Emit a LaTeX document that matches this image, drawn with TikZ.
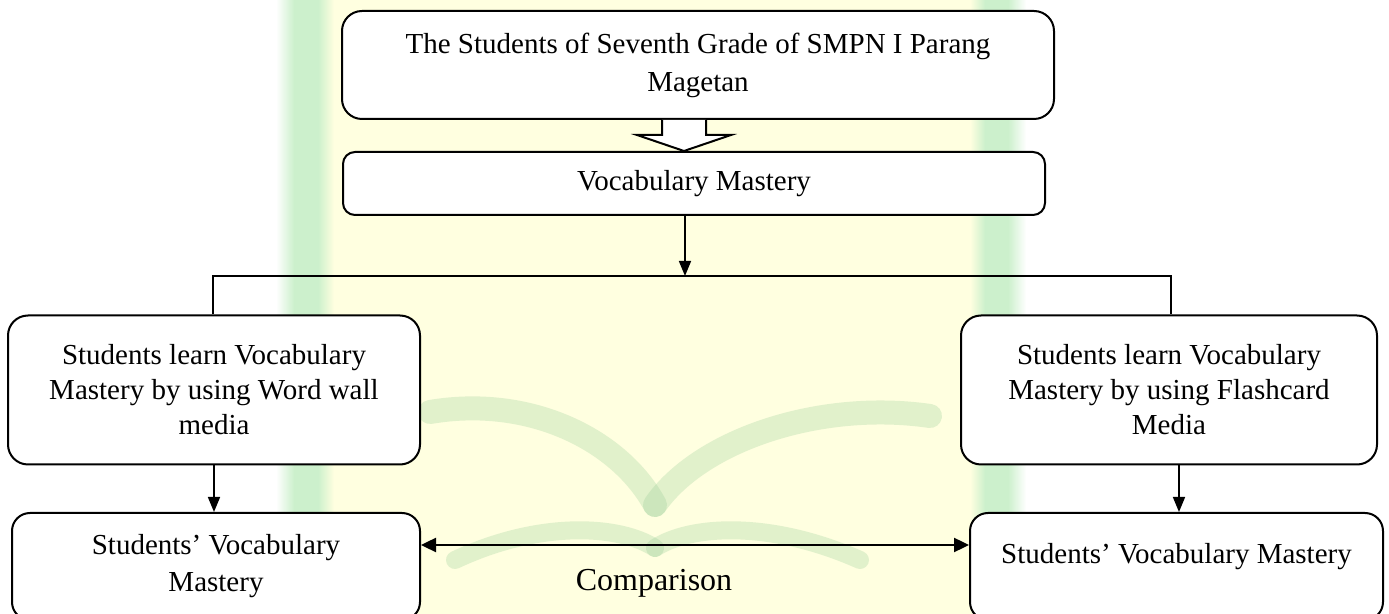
\documentclass[tikz,border=0pt]{standalone}
\usepackage{fontspec}
\setmainfont{Liberation Serif}
\usetikzlibrary{arrows.meta,calc}
\definecolor{wmyellow}{RGB}{255,255,224}
\definecolor{wmgreen}{RGB}{204,240,204}
\definecolor{wmbook}{RGB}{150,205,150}
\tikzset{
  box/.style={draw, line width=1pt, fill=white, rounded corners=10pt, align=center,
    inner sep=0pt, font=\fontsize{14.5}{17.5}\selectfont},
  conn/.style={line width=0.8pt, -{Triangle[length=7.5pt,width=6pt]}},
  plain/.style={line width=0.6pt},
  dbl/.style={line width=1.2pt, {Triangle[length=7.5pt,width=7pt]}-{Triangle[length=7.5pt,width=7pt]}},
  blockarrow/.style={line width=1pt, fill=white, line join=miter}
}
\begin{document}
\begin{tikzpicture}[x=0.5pt,y=-0.5pt]
\useasboundingbox (0,0) rectangle (1389,614);
% faint watermark background
\fill[wmyellow] (318,0) rectangle (985,614);
\shade[left color=white, right color=wmgreen] (276,0) rectangle (294,614);
\fill[wmgreen] (294,0) rectangle (318,614);
\shade[left color=wmgreen, right color=wmyellow] (318,0) rectangle (334,614);
\shade[left color=wmyellow, right color=wmgreen] (970,0) rectangle (985,614);
\fill[wmgreen] (985,0) rectangle (1008,614);
\shade[left color=wmgreen, right color=white] (1008,0) rectangle (1026,614);
\begin{scope}[wmbook, opacity=0.28, line cap=round]
\draw[line width=12pt] (430,412) .. controls (530,395) and (620,440) .. (655,505);
\draw[line width=12pt] (930,416) .. controls (820,400) and (700,440) .. (655,505);
\draw[line width=9pt] (455,560) .. controls (540,520) and (620,525) .. (655,548);
\draw[line width=9pt] (860,560) .. controls (770,520) and (690,525) .. (655,548);
\end{scope}
% boxes
\node[box, font=\fontsize{14.5}{19}\selectfont, minimum width=356pt, minimum height=54pt] (top) at (698,65)
  {The Students of Seventh Grade of SMPN I Parang\\Magetan};
\node[box, rounded corners=6pt, minimum width=351pt, minimum height=31.5pt] (voc) at (694,183.5)
  {Vocabulary Mastery};
\node[box, minimum width=206pt, minimum height=74.5pt] (lw) at (214,390)
  {Students learn Vocabulary\\Mastery by using Word wall\\media};
\node[box, minimum width=208pt, minimum height=74.5pt] (rf) at (1169,390)
  {Students learn Vocabulary\\Mastery by using Flashcard\\Media};
\node[box, rounded corners=9pt, font=\fontsize{14.5}{18.5}\selectfont, minimum width=204pt, minimum height=53.5pt] (lv) at (216,566.5)
  {Students’ Vocabulary\\Mastery};
\node[box, rounded corners=9pt, minimum width=206.5pt, minimum height=53.5pt, text depth=13.3pt] (rv) at (1176.5,566.5)
  {Students’ Vocabulary Mastery};
\node[font=\fontsize{16}{19}\selectfont, inner sep=0pt] (cmp) at (654,583) {Comparison};
% block arrow from top box to vocabulary box
\coordinate (bt) at ($(top.south)+(-14,0)$);
\coordinate (bv) at (voc.north -| bt);
\draw[blockarrow] ($(bt)+(-22,0)$) -- ($(bt)+(-22,15)$) -- ($(bt)+(-47,15)$) -- (bv)
  -- ($(bt)+(47,15)$) -- ($(bt)+(22,15)$) -- ($(bt)+(22,0)$);
% down to branch line
\coordinate (j) at (685,276);
\coordinate (hl) at (213,276);
\coordinate (hr) at (1171,276);
\draw[conn] (voc.south -| j) -- (j);
\draw[plain] (lw.north -| hl) -- (hl) -- (hr) -- (rf.north -| hr);
% down arrows
\draw[conn] (lw.south) -- (lv.north -| lw.south);
\coordinate (ra) at ($(rf.south)+(10,0)$);
\draw[conn] (ra) -- (rv.north -| ra);
% comparison arrow
\coordinate (cy) at (0,545);
\draw[dbl] (lv.east |- cy) -- (rv.west |- cy);
\end{tikzpicture}
\end{document}
